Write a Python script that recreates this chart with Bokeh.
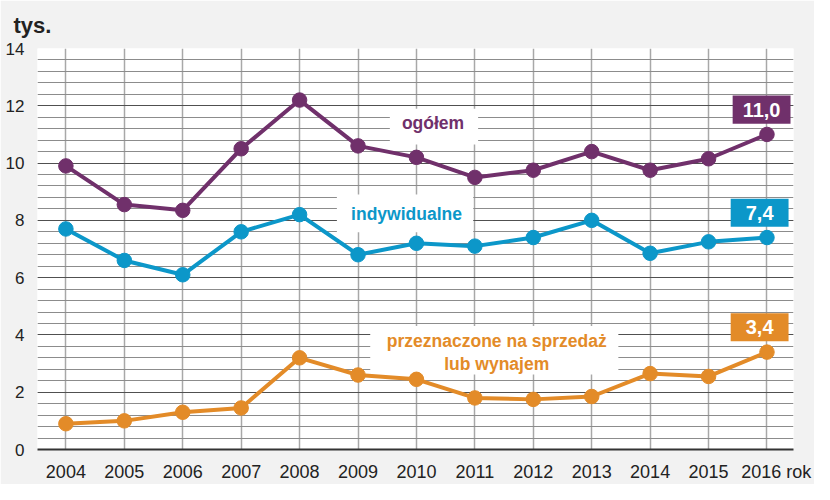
from bokeh.plotting import figure
from bokeh.models import FixedTicker, Range1d, ColumnDataSource
from bokeh.core.properties import value
from bokeh.embed import file_html
from bokeh.resources import INLINE

years = [2004, 2005, 2006, 2007, 2008, 2009, 2010, 2011, 2012, 2013, 2014, 2015, 2016]
ogolem = [9.9, 8.55, 8.35, 10.5, 12.2, 10.6, 10.2, 9.5, 9.75, 10.4, 9.75, 10.15, 11.0]
indywidualne = [7.7, 6.6, 6.1, 7.6, 8.2, 6.8, 7.2, 7.1, 7.4, 8.0, 6.85, 7.25, 7.4]
sprzedaz = [0.9, 1.0, 1.3, 1.45, 3.2, 2.6, 2.45, 1.8, 1.75, 1.85, 2.65, 2.55, 3.4]
y_ticks = [0, 2, 4, 6, 8, 10, 12, 14]
series_names = ["ogółem", "indywidualne", "przeznaczone na sprzedaż\nlub wynajem"]
unit_label = "tys."
year_unit = "rok"

PURPLE = "#70306b"
BLUE = "#0c97c9"
ORANGE = "#e38b28"
FONT = "Liberation Sans"

W, H = 814, 484
SX, SY = W / 830.0, H / 500.0
LEFT, RIGHT, TOP, BOTTOM = 37, 21, 48, 29
X_START, X_END = 2003.514, 2016.454
PX_PER_YEAR = (W - LEFT - RIGHT) / (X_END - X_START)
PX_PER_UNIT = (H - TOP - BOTTOM) / 14.0


def dx(ref_px):
    return X_START + (ref_px * SX - LEFT) / PX_PER_YEAR


def dy(ref_py):
    return 14 - (ref_py * SY - TOP) / PX_PER_UNIT


p = figure(width=W, height=H, output_backend="svg", toolbar_location=None,
           x_range=Range1d(X_START, X_END), y_range=Range1d(0, 14),
           min_border_left=LEFT, min_border_right=RIGHT,
           min_border_top=TOP, min_border_bottom=BOTTOM)
p.border_fill_color = "#f2f2f2"
p.background_fill_color = "white"
p.outline_line_color = None

# title-like unit label
p.title.text = unit_label
p.title.align = "left"
p.title.offset = -24
p.title.standoff = 21
p.title.text_font = FONT
p.title.text_font_size = "22px"
p.title.text_font_style = "bold"
p.title.text_color = "#222222"

# axes
rok_pos = dx(791)
p.xaxis.ticker = FixedTicker(ticks=years[:-1] + [rok_pos])
p.xaxis.major_label_overrides = {rok_pos: f"{years[-1]} {year_unit}"}
p.yaxis.ticker = FixedTicker(ticks=y_ticks, minor_ticks=[i * 0.4 for i in range(36)])
for ax in (p.xaxis[0], p.yaxis[0]):
    ax.major_tick_line_color = None
    ax.minor_tick_line_color = None
    ax.major_label_text_font = FONT
    ax.major_label_text_color = "#222222"
p.xaxis.major_label_text_font_size = "18px"
p.yaxis.major_label_text_font_size = "17px"
p.yaxis.axis_line_color = None
p.yaxis.major_label_standoff = 7
p.xaxis.axis_line_color = "#333333"
p.xaxis.axis_line_width = 2
p.xaxis.major_label_standoff = 6

# grids
p.xgrid.ticker = FixedTicker(ticks=years)
p.xgrid.grid_line_color = "#a8a8a8"
p.xgrid.grid_line_width = 1.5
p.ygrid.grid_line_color = "#505050"
p.ygrid.grid_line_width = 1.2
p.ygrid.minor_grid_line_color = "#8c8c8c"
p.ygrid.minor_grid_line_width = 1

# series label boxes (white)
boxes = ColumnDataSource(dict(
    x=[dx(442), dx(412.5), dx(503.5)],
    y=[dy(131.5), dy(222.5), dy(366)],
    w=[90 * SX, 139 * SX, 253 * SX],
    h=[37 * SY, 39 * SY, 50 * SY],
))
p.rect(x="x", y="y", width="w", height="h", width_units="screen", height_units="screen",
       source=boxes, fill_color="white", line_color=None)

# lines and points
for vals, col in ((ogolem, PURPLE), (indywidualne, BLUE), (sprzedaz, ORANGE)):
    p.line(years, vals, line_color=col, line_width=4)
    p.scatter(years, vals, size=14.5, fill_color=col, line_color=col)

# series labels text
common = dict(text_font=value(FONT), text_font_style="bold", text_font_size="17.5px",
              text_align="center", text_baseline="middle")
p.text(x=[dx(441)], y=[dy(128)], text=[series_names[0]], text_color=PURPLE, **common)
p.text(x=[dx(414)], y=[dy(223)], text=[series_names[1]], text_color=BLUE, **common)
p.text(x=[dx(506)], y=[dy(368)], text=[series_names[2]], text_color=ORANGE,
       text_line_height=1.15, **common)

# last-value boxes
last_x = years[-1]
for vals, col, xoff in ((ogolem, PURPLE, -5.5), (indywidualne, BLUE, -7.5), (sprzedaz, ORANGE, -7.5)):
    v = vals[-1]
    bx = last_x + xoff * SX / PX_PER_YEAR
    by = v + 26 * SY / PX_PER_UNIT
    p.rect(x=[bx], y=[by], width=59 * SX, height=29 * SY, width_units="screen",
           height_units="screen", fill_color=col, line_color=None)
    p.text(x=[bx], y=[by], text=[f"{v:.1f}".replace(".", ",")], text_color="white",
           text_font=value(FONT), text_font_style="bold", text_font_size="20px",
           text_align="center", text_baseline="middle")

open("out.html", "w").write(file_html(p, INLINE))
